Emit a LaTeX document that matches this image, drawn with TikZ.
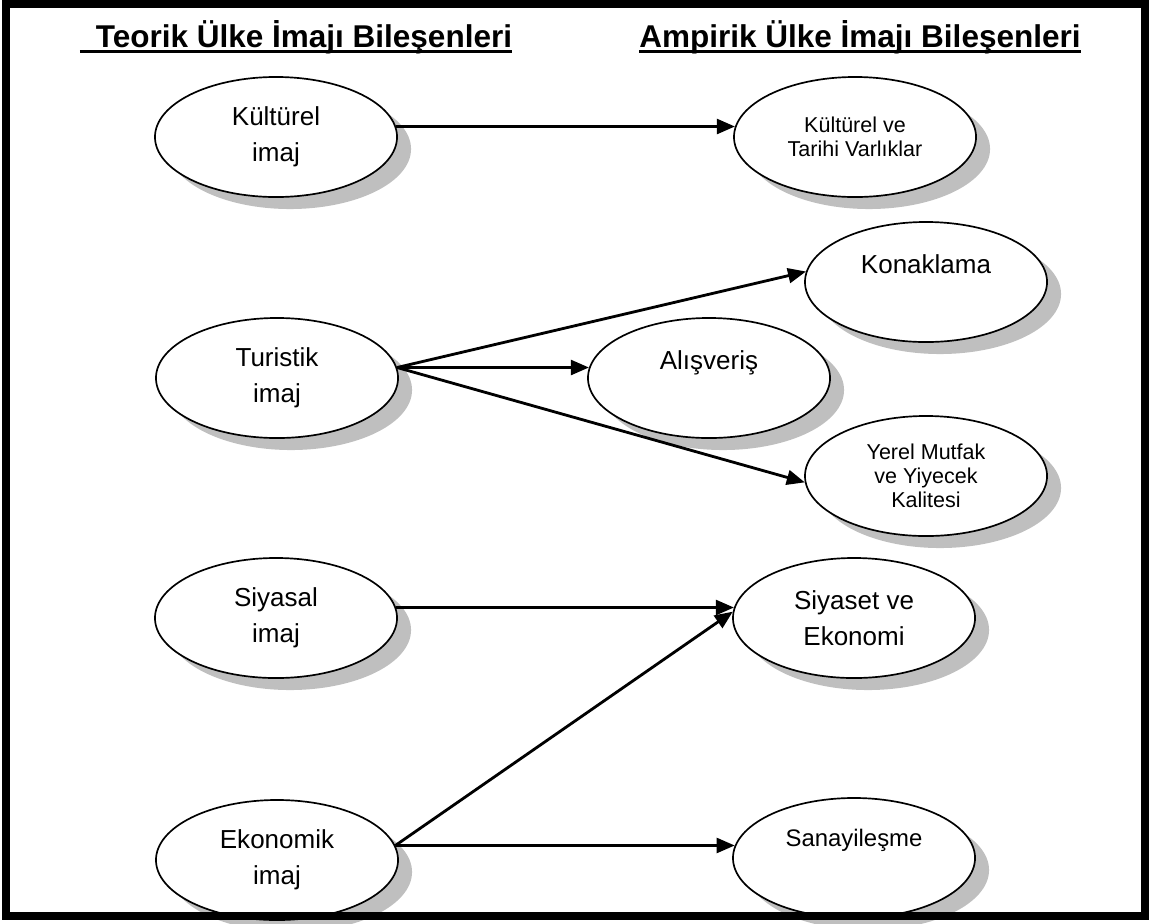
\documentclass[tikz,border=0pt]{standalone}
\usepackage{fontspec}
\setmainfont{Liberation Sans}
\usetikzlibrary{shapes.geometric,shadows,arrows.meta}
\newsavebox{\ttlbox}
\newcommand{\ulttl}[1]{\sbox{\ttlbox}{#1}\rlap{\rule[-4.2pt]{\wd\ttlbox}{2.2pt}}\usebox{\ttlbox}}
\newcommand{\bigtxt}{\fontsize{18.5}{25.5}\selectfont}
\newcommand{\smalltxt}{\fontsize{15.3}{17}\selectfont}
\newcommand{\sanatxt}{\fontsize{17}{28}\selectfont}
\newcommand{\titletxt}{\fontsize{22.4}{26}\selectfont\bfseries}

\begin{document}
\begin{tikzpicture}[x=0.025cm,y=0.025cm]
\tikzstyle{every node}+=[inner sep=0pt]
\tikzstyle{oval}=[ellipse, draw=black, line width=1.2pt, fill=white, minimum width=6.05cm, minimum height=3cm, align=center, font=\bigtxt, drop shadow={shadow xshift=0.35cm, shadow yshift=-0.3cm, fill=black!25, opacity=1}]
\tikzstyle{link}=[black, line width=2pt, -{Triangle[length=0.45cm,width=0.37cm]}]
\useasboundingbox (0,0) rectangle (1155,-923);
\clip (0,0) rectangle (1155,-923);
\node [anchor=base, font=\titletxt] (teo) at (296,-47) {\ulttl{\hspace*{0.4cm}Teorik Ülke İmajı Bileşenleri}};
\node [anchor=base, font=\titletxt] (amp) at (860,-47) {\ulttl{Ampirik Ülke İmajı Bileşenleri}};
\node [oval] (kim) at (276,-137) {Kültürel\\imaj};
\node [oval] (tim) at (277,-378) {Turistik\\imaj};
\node [oval] (sim) at (276,-618) {Siyasal\\imaj};
\node [oval] (eim) at (277,-860) {Ekonomik\\imaj};
\node [oval, font=\smalltxt] (ktv) at (855,-137) {Kültürel ve\\Tarihi Varlıklar};
\node [oval] (kon) at (926,-282) {Konaklama\\~};
\node [oval] (alv) at (709,-378) {Alışveriş\\~};
\node [oval, font=\smalltxt] (ymk) at (926,-476) {Yerel Mutfak\\ve Yiyecek\\Kalitesi};
\node [oval] (sve) at (854,-618) {Siyaset ve\\Ekonomi};
\node [oval, font=\sanatxt] (san) at (854,-858) {Sanayileşme\\~};
\draw [link] (kim.5) -- (ktv.175);
\draw [link] (tim.5) -- (kon.175);
\draw [link] (tim.5) -- (alv.175);
\draw [link] (tim.5) -- (ymk.183);
\draw [link] (sim.5) -- (sve.175);
\draw [link] (eim.7) -- (sve.177);
\draw [link] (eim.7) -- (san.174);
\draw [black, line width=0.2cm] (6,-4) rectangle (1145,-916);
\end{tikzpicture}
\end{document}
